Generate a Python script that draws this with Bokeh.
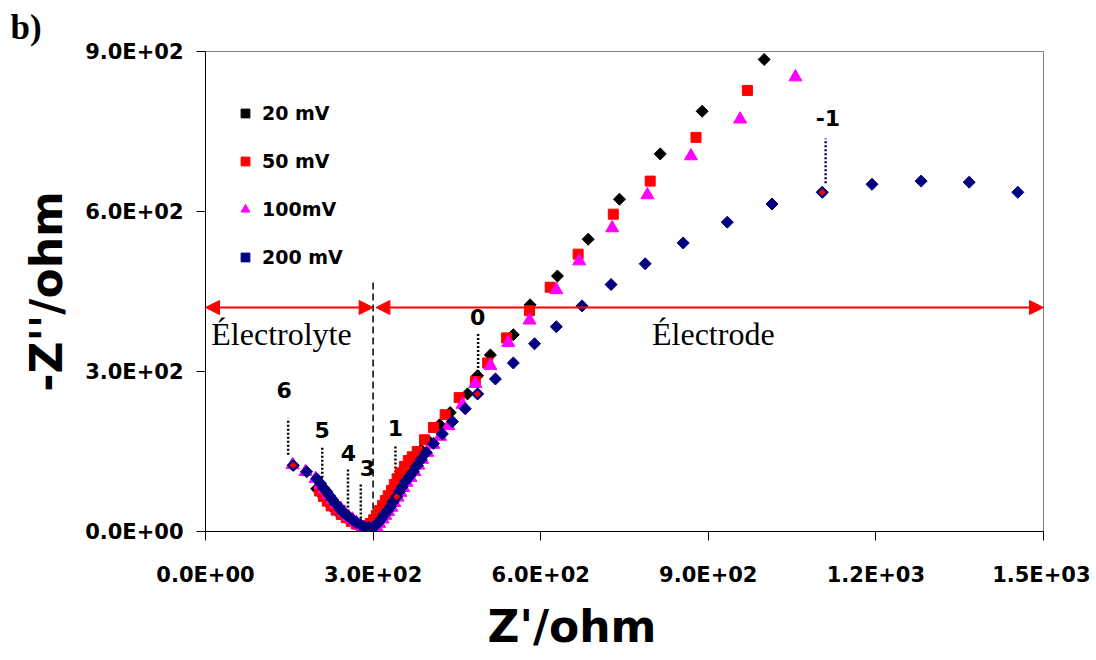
import math
from bokeh.plotting import figure
from bokeh.models import (Range1d, FixedTicker, Label, Arrow, NormalHead, Legend, LegendItem,
                          CustomJSTickFormatter, Title)
from bokeh.core.properties import value
from bokeh.embed import file_html
from bokeh.resources import INLINE

# ---------------- data (ohm) ----------------
mv20_x = [199, 206, 213, 220, 227, 236, 245, 254, 263, 272, 281, 290, 297, 302, 308, 313, 318, 324, 329, 335,
          340, 345, 352, 360, 367, 376, 386, 399, 419, 438, 469, 487, 510, 551, 581, 630, 685, 741, 814, 889, 1000]
mv20_y = [80, 71, 62, 53, 45, 37, 30, 24, 18, 13, 9, 7.5, 11, 19, 26, 36, 45, 54, 64, 73,
          82, 92, 103, 114, 125, 138, 153, 170, 200, 223, 258, 292, 331, 369, 425, 479, 548, 623, 708, 788, 885]

mv50_x = [204, 211, 218, 225, 234, 243, 252, 261, 270, 279, 288, 295, 301, 306, 311, 317, 322, 327, 333, 338,
          343, 349, 356, 363, 370, 379, 392, 408, 429, 454, 483, 505, 539, 580, 617, 667, 730, 796, 878, 970]
mv50_y = [76, 66, 57, 48, 40, 32, 26, 19, 14, 10, 9, 15, 22, 30, 39, 49, 58, 67, 77, 88,
          99, 110, 122, 133, 140, 150, 172, 195, 219, 251, 281, 316, 363, 414, 458, 520, 595, 657, 739, 827]

mv100_x = [156, 179, 197, 206, 213, 220, 227, 234, 242, 249, 256, 263, 270, 277, 284, 292, 299, 306, 311, 317,
           322, 327, 333, 338, 344, 349, 354, 360, 367, 374, 381, 388, 397, 408, 420, 435, 460, 483, 510, 542,
           580, 628, 669, 728, 791, 869, 957, 1056]
mv100_y = [125, 112, 99, 88, 79, 69, 60, 51, 43, 36, 28, 23, 17, 11, 7.5, 5.6, 5.6, 9, 15, 23,
           30, 37, 45, 54, 64, 73, 82, 92, 101, 112, 124, 135, 148, 163, 178, 198, 238, 277, 311, 354,
           396, 453, 507, 569, 631, 704, 773, 852]

mv200_x = [157, 181, 199, 206, 211, 217, 222, 227, 233, 238, 243, 249, 256, 263, 270, 277, 284, 292, 299, 304,
           310, 315, 320, 326, 331, 336, 342, 347, 352, 358, 365, 372, 379, 386, 395, 408, 424, 442, 465, 487,
           519, 551, 589, 628, 674, 726, 787, 855, 934, 1014, 1104, 1193, 1281, 1367, 1454]
mv200_y = [124, 112, 99, 90, 82, 75, 67, 60, 52, 47, 39, 34, 28, 22, 17, 13, 9, 7.5, 7.5, 11,
           17, 24, 32, 39, 47, 56, 65, 75, 84, 94, 103, 112, 124, 135, 148, 165, 183, 206, 230, 258,
           286, 316, 352, 384, 423, 463, 502, 541, 580, 614, 636, 651, 657, 655, 636]

# decade (log f) markers on the 200 mV curve
decade_x = [157, 342, 487, 1104]
decade_y = [124, 65, 258, 636]

# decade labels and their leader lines
dec_labels = ["6", "5", "4", "3", "1", "0", "-1"]
dec_text_x = [141, 209, 256, 290, 340, 487, 1114]
dec_text_y = [266, 191, 148, 120, 195, 402, 775]
dec_line_x = [148, 209, 255, 278, 340, 488, 1110]
dec_line_y0 = [144, 101, 45, 17, 73, 284, 653]
dec_line_y1 = [212, 159, 120, 90, 163, 372, 737]
dec_line_color = ["black", "black", "black", "black", "black", "black", "#000080"]

x_ticks = [0, 300, 600, 900, 1200, 1500]
y_ticks = [0, 300, 600, 900]

# ---------------- figure ----------------
p = figure(width=1090, height=660, x_range=Range1d(0, 1500), y_range=Range1d(0, 900),
           output_backend="svg", toolbar_location=None,
           min_border_left=205, min_border_right=47, min_border_top=51, min_border_bottom=128)
p.grid.visible = False
p.outline_line_color = "#808080"
p.outline_line_width = 1
p.background_fill_color = "white"
p.border_fill_color = "white"

# panel letter as the plot title
p.title.text = "b)"
p.title.align = "left"
p.title.offset = -195
p.title.standoff = 9
p.title.text_font = "Liberation Serif"
p.title.text_font_style = "bold"
p.title.text_font_size = "35px"
p.title.text_color = "black"

fmt = CustomJSTickFormatter(code="""
const s = tick.toExponential(1).toUpperCase();
const parts = s.split('E');
const e = parts[1];
const sign = e[0];
const d = e.slice(1).padStart(2, '0');
return parts[0] + 'E' + sign + d;
""")

for ax, ticks in ((p.xaxis[0], x_ticks), (p.yaxis[0], y_ticks)):
    ax.ticker = FixedTicker(ticks=ticks)
    ax.formatter = fmt
    ax.axis_line_color = "black"
    ax.axis_line_width = 1
    ax.major_tick_line_color = "black"
    ax.minor_tick_line_color = None
    ax.major_tick_in = 0
    ax.major_tick_out = 9
    ax.major_label_text_font = "DejaVu Sans"
    ax.major_label_text_font_style = "bold"
    ax.major_label_text_font_size = "21px"
    ax.major_label_text_color = "black"
    ax.axis_label_text_font = "DejaVu Sans"
    ax.axis_label_text_font_style = "bold"
    ax.axis_label_text_font_size = "44px"
    ax.axis_label_text_color = "black"

p.yaxis.axis_label = "-Z''/ohm"
p.xaxis.major_label_standoff = 22
p.yaxis.major_label_standoff = 13
p.yaxis.axis_label_standoff = 10

p.add_layout(Title(text="Z'/ohm", align="left", offset=282, standoff=18,
                   text_font="DejaVu Sans", text_font_style="bold", text_font_size="44px",
                   text_color="black"), "below")

# vertical dashed separator at 300 ohm
p.segment(x0=[300], y0=[0], x1=[300], y1=[468], line_color="black", line_width=1.5, line_dash="7 4")

# leader lines
p.segment(x0=dec_line_x, y0=dec_line_y0, x1=dec_line_x, y1=dec_line_y1,
          line_color=dec_line_color, line_width=2.5, line_dash="2 2")

# series
r20 = p.scatter(mv20_x, mv20_y, marker="square", angle=math.pi / 4, size=8.5,
                fill_color="black", line_color="black")
r50 = p.scatter(mv50_x, mv50_y, marker="square", size=10,
                fill_color="#FF0000", line_color="#FF0000")
r100 = p.scatter(mv100_x, mv100_y, marker="triangle", size=13,
                 fill_color="#FF00FF", line_color="#FF00FF")
r200 = p.scatter(mv200_x, mv200_y, marker="square", angle=math.pi / 4, size=8.5,
                 fill_color="#000080", line_color="#000080")
p.scatter(decade_x, decade_y, marker="square", angle=math.pi / 4, size=7,
          fill_color="#FF0000", line_color="#000080", line_width=2)

# decade labels
p.text(x=dec_text_x, y=dec_text_y, text=dec_labels, text_font=value("DejaVu Sans"),
       text_font_style="bold", text_font_size="22px", text_align="center",
       text_baseline="middle", text_color="black")

# double arrows
head = dict(size=14, fill_color="#FF0000", line_color="#FF0000")
p.add_layout(Arrow(start=NormalHead(**head), end=NormalHead(**head),
                   x_start=0, y_start=420, x_end=300, y_end=420,
                   line_color="#FF0000", line_width=2))
p.add_layout(Arrow(start=NormalHead(**head), end=NormalHead(**head),
                   x_start=305, y_start=420, x_end=1500, y_end=420,
                   line_color="#FF0000", line_width=2))

for txt, xx in (("Électrolyte", 136), ("Électrode", 909)):
    p.add_layout(Label(x=xx, y=370, text=txt, text_font="Liberation Serif",
                       text_font_size="32px", text_align="center", text_baseline="middle",
                       text_color="black"))

legend = Legend(items=[LegendItem(label="20 mV", renderers=[r20]),
                       LegendItem(label="50 mV", renderers=[r50]),
                       LegendItem(label="100mV", renderers=[r100]),
                       LegendItem(label="200 mV", renderers=[r200])],
                location=(29, 263), glyph_width=22, glyph_height=22, label_height=22,
                spacing=26, padding=0, margin=0, label_standoff=6,
                border_line_color=None, background_fill_alpha=0,
                label_text_font="DejaVu Sans", label_text_font_style="bold",
                label_text_font_size="19px", label_text_color="black")
p.add_layout(legend)

open("out.html", "w").write(file_html(p, INLINE))
